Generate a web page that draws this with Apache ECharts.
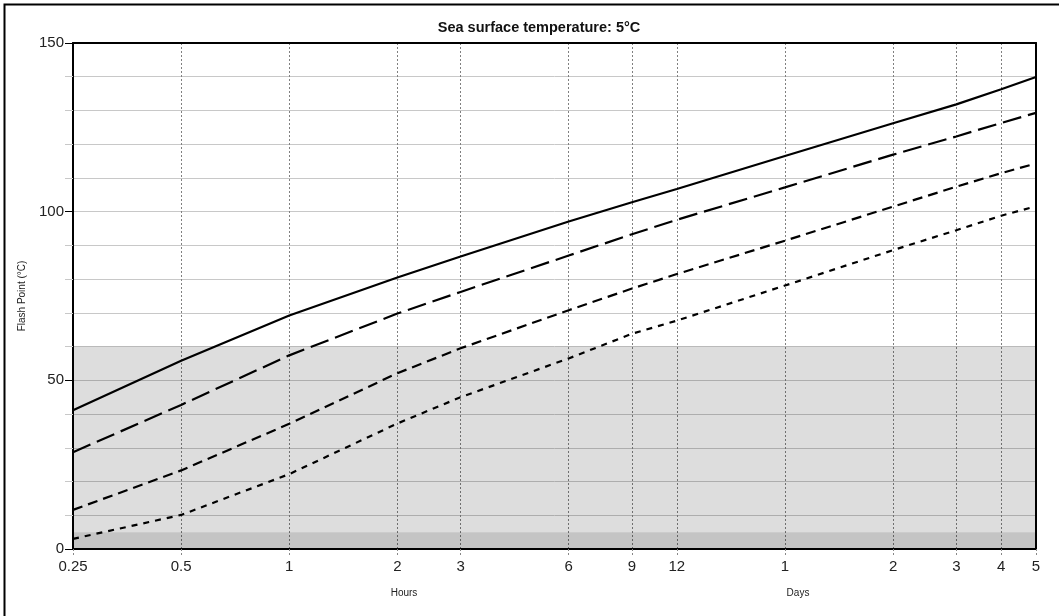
<!DOCTYPE html>
<html>
<head>
<meta charset="utf-8">
<script src="https://cdn.jsdelivr.net/npm/echarts@6/dist/echarts.min.js"></script>
<style>
html,body{margin:0;padding:0;background:#fff;}
#chart{width:1059px;height:616px;}
</style>
</head>
<body>
<div id="chart"></div>
<script>
// Time in hours (log axis)
const hours = [0.25, 0.5, 1, 2, 3, 6, 9, 12, 24, 48, 72, 96, 120];
const tickHours = [0.25, 0.5, 1, 2, 3, 6, 9, 12, 24, 48, 72, 96, 120];
const seriesNames = ['Curve 1', 'Curve 2', 'Curve 3', 'Curve 4'];
const solidVals = [41.1, 55.8, 69.2, 80.5, 86.7, 97.1, 102.8, 106.7, 116.5, 126.2, 131.8, 136.3, 139.9];
const longDashVals = [28.7, 42.7, 57.4, 69.8, 76.2, 87.0, 93.3, 97.6, 107.2, 116.9, 122.3, 126.3, 129.3];
const medDashVals = [11.6, 23.3, 37.1, 52.1, 59.5, 70.8, 77.2, 81.5, 91.4, 101.5, 107.4, 111.4, 114.3];
const shortDashVals = [3.0, 10.1, 22.2, 37.2, 45.0, 56.5, 63.8, 67.7, 78.1, 88.6, 94.5, 98.8, 101.6];
const bandLight = [5, 60];
const bandDark = [0, 5];

const FONT = 'Liberation Sans, Arial, sans-serif';
const chart = echarts.init(document.getElementById('chart'), null, {renderer: 'canvas'});

function pairs(vals) { return hours.map((h, i) => [h, vals[i]]); }
function lineSeries(name, vals, dash, extra) {
  return Object.assign({
    name: name, type: 'line', xAxisIndex: 0, yAxisIndex: 0,
    data: pairs(vals), symbol: 'none', smooth: false, z: 5,
    lineStyle: {color: '#000', width: 2.2, type: dash}
  }, extra || {});
}

const option = {
  animation: false,
  backgroundColor: '#fff',
  title: {
    text: 'Sea surface temperature: 5°C',
    left: 534, top: 15, textAlign: 'center',
    textStyle: {fontFamily: FONT, fontSize: 14.5, fontWeight: 'bold', color: '#111'}
  },
  grid: {left: 73, right: 23, top: 43, bottom: 67, show: false},
  xAxis: [{
    type: 'log', logBase: 10, min: 0.25, max: 120,
    axisLine: {show: true, lineStyle: {color: '#000', width: 2}},
    axisTick: {show: true, customValues: tickHours, length: 8, lineStyle: {color: '#888', type: [2, 2]}},
    axisLabel: {
      show: true, customValues: tickHours, margin: 10, hideOverlap: false,
      showMinLabel: true, showMaxLabel: true,
      fontFamily: FONT, fontSize: 15, color: '#222',
      formatter: function (v) {
        const r = Math.round(v * 100) / 100;
        return r < 24 ? String(r) : String(Math.round(r / 24));
      }
    },
    splitLine: {show: true, lineStyle: {color: '#808080', width: 1, type: [2, 2]}},
    minorTick: {show: false}, minorSplitLine: {show: false}
  }, {
    type: 'value', position: 'top', min: 0, max: 1,
    axisLine: {show: true, onZero: false, lineStyle: {color: '#000', width: 2}},
    axisTick: {show: false}, axisLabel: {show: false}, splitLine: {show: false}
  }],
  yAxis: [{
    type: 'value', min: 0, max: 150, interval: 50,
    name: 'Flash Point (°C)', nameLocation: 'middle', nameGap: 46, nameRotate: 90,
    nameTextStyle: {fontFamily: FONT, fontSize: 10, color: '#222'},
    axisLine: {show: true, lineStyle: {color: '#000', width: 2}},
    axisTick: {show: true, length: 8, lineStyle: {color: '#000', width: 1}},
    axisLabel: {fontFamily: FONT, fontSize: 15, color: '#222', margin: 9},
    splitLine: {show: true, lineStyle: {color: '#c8c8c8', width: 1}},
    minorTick: {show: true, splitNumber: 5, length: 8, lineStyle: {color: '#c8c8c8', width: 1}},
    minorSplitLine: {show: true, lineStyle: {color: '#c8c8c8', width: 1}}
  }, {
    type: 'value', position: 'right', min: 0, max: 150,
    axisLine: {show: true, onZero: false, lineStyle: {color: '#000', width: 2}},
    axisTick: {show: false}, axisLabel: {show: false}, splitLine: {show: false}
  }],
  graphic: [
    {type: 'rect', shape: {x: 4.5, y: 4.5, width: 1200, height: 800}, style: {fill: null, stroke: '#000', lineWidth: 2}, z: 100, silent: true},
    {type: 'text', x: 404, y: 588, style: {text: 'Hours', font: '10px ' + FONT, fill: '#222', align: 'center', textAlign: 'center'}},
    {type: 'text', x: 798, y: 588, style: {text: 'Days', font: '10px ' + FONT, fill: '#222', align: 'center', textAlign: 'center'}}
  ],
  series: [
    lineSeries(seriesNames[0], solidVals, 'solid', {
      markArea: {
        silent: true,
        data: [
          [{yAxis: bandLight[0], itemStyle: {color: 'rgba(0,0,0,0.135)'}}, {yAxis: bandLight[1]}],
          [{yAxis: bandDark[0], itemStyle: {color: 'rgba(0,0,0,0.23)'}}, {yAxis: bandDark[1]}]
        ]
      }
    }),
    lineSeries(seriesNames[1], longDashVals, [19, 7]),
    lineSeries(seriesNames[2], medDashVals, [10, 6]),
    lineSeries(seriesNames[3], shortDashVals, [6, 6])
  ]
};
chart.setOption(option);
</script>
</body>
</html>
